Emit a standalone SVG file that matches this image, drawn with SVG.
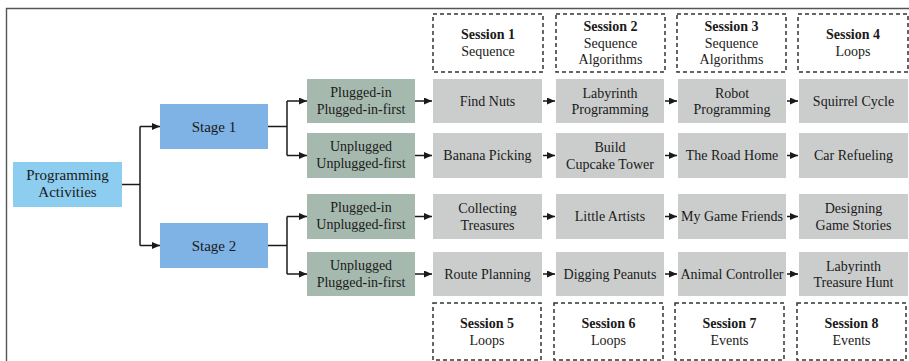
<svg xmlns="http://www.w3.org/2000/svg" width="909" height="361" viewBox="0 0 909 361">
<style>
text{font-family:'Liberation Serif','DejaVu Serif','Times New Roman',serif;fill:#1a1a1a;text-anchor:middle}
.t14{font-size:14px}
.t15{font-size:15px}
.b{font-weight:bold}
.pa{fill:#8dcdef}
.st{fill:#7fb3e5}
.gr{fill:#a6b9af}
.gy{fill:#cbcdcc}
.ses{fill:#fff;stroke:#333;stroke-width:1.5;stroke-dasharray:4 3}
.con{fill:none;stroke:#1a1a1a;stroke-width:1.5}
</style>
<defs>
<marker id="ah" viewBox="0 0 8 7" refX="8" refY="3.5" markerWidth="8" markerHeight="7" markerUnits="userSpaceOnUse" orient="auto">
<path d="M0,0 L8,3.5 L0,7 z" fill="#1a1a1a"/>
</marker>
</defs>
<path d="M6.5,361 V8.5 H909" fill="none" stroke="#555" stroke-width="1.4"/>
<g font-family="Liberation Serif, DejaVu Serif, serif">
<g id="session1"><rect class="ses" x="433" y="14" width="110" height="58"/><text class="t14 b" x="488" y="39.3">Session 1</text><text class="t14" x="488" y="55.9">Sequence</text></g>
<g id="session2"><rect class="ses" x="556" y="14" width="109" height="58"/><text class="t14 b" x="610.5" y="31">Session 2</text><text class="t14" x="610.5" y="47.5">Sequence</text><text class="t14" x="610.5" y="64">Algorithms</text></g>
<g id="session3"><rect class="ses" x="677" y="14" width="109" height="58"/><text class="t14 b" x="731.5" y="31">Session 3</text><text class="t14" x="731.5" y="47.5">Sequence</text><text class="t14" x="731.5" y="64">Algorithms</text></g>
<g id="session4"><rect class="ses" x="798" y="14" width="110" height="58"/><text class="t14 b" x="853" y="39.3">Session 4</text><text class="t14" x="853" y="55.9">Loops</text></g>

<g id="session5"><rect class="ses" x="433" y="303" width="108" height="57"/><text class="t14 b" x="487" y="328">Session 5</text><text class="t14" x="487" y="344.5">Loops</text></g>
<g id="session6"><rect class="ses" x="554" y="303" width="109" height="57"/><text class="t14 b" x="608.5" y="328">Session 6</text><text class="t14" x="608.5" y="344.5">Loops</text></g>
<g id="session7"><rect class="ses" x="675" y="303" width="109" height="57"/><text class="t14 b" x="729.5" y="328">Session 7</text><text class="t14" x="729.5" y="344.5">Events</text></g>
<g id="session8"><rect class="ses" x="797" y="303" width="109" height="57"/><text class="t14 b" x="851.5" y="328">Session 8</text><text class="t14" x="851.5" y="344.5">Events</text></g>

<g id="programming-activities"><rect class="pa" x="13" y="162" width="109" height="45"/><text class="t15" x="67.5" y="180">Programming</text><text class="t15" x="67.5" y="197">Activities</text></g>
<g id="stage1"><rect class="st" x="160" y="104" width="108" height="45"/><text class="t15" x="214" y="131.5">Stage 1</text></g>
<g id="stage2"><rect class="st" x="160" y="223" width="108" height="45"/><text class="t15" x="214" y="250.5">Stage 2</text></g>

<g id="mode1"><rect class="gr" x="307" y="79" width="108" height="44"/><text class="t14" x="361" y="97">Plugged-in</text><text class="t14" x="361" y="114">Plugged-in-first</text></g>
<g id="mode2"><rect class="gr" x="307" y="133" width="108" height="45"/><text class="t14" x="361" y="151">Unplugged</text><text class="t14" x="361" y="168">Unplugged-first</text></g>
<g id="mode3"><rect class="gr" x="307" y="194" width="108" height="45"/><text class="t14" x="361" y="212">Plugged-in</text><text class="t14" x="361" y="229">Unplugged-first</text></g>
<g id="mode4"><rect class="gr" x="307" y="252" width="108" height="44"/><text class="t14" x="361" y="270">Unplugged</text><text class="t14" x="361" y="287">Plugged-in-first</text></g>

<g id="r1c1"><rect class="gy" x="433" y="79" width="109" height="44"/><text class="t14" x="487.5" y="106">Find Nuts</text></g>
<g id="r1c2"><rect class="gy" x="556" y="79" width="108" height="44"/><text class="t14" x="610" y="97.5">Labyrinth</text><text class="t14" x="610" y="114">Programming</text></g>
<g id="r1c3"><rect class="gy" x="678" y="79" width="108" height="44"/><text class="t14" x="732" y="97.5">Robot</text><text class="t14" x="732" y="114">Programming</text></g>
<g id="r1c4"><rect class="gy" x="799" y="79" width="109" height="44"/><text class="t14" x="853.5" y="106">Squirrel Cycle</text></g>

<g id="r2c1"><rect class="gy" x="433" y="133" width="109" height="45"/><text class="t14" x="487.5" y="160">Banana Picking</text></g>
<g id="r2c2"><rect class="gy" x="556" y="133" width="108" height="45"/><text class="t14" x="610" y="152">Build</text><text class="t14" x="610" y="168.5">Cupcake Tower</text></g>
<g id="r2c3"><rect class="gy" x="678" y="133" width="108" height="45"/><text class="t14" x="732" y="160">The Road Home</text></g>
<g id="r2c4"><rect class="gy" x="799" y="133" width="109" height="45"/><text class="t14" x="853.5" y="160">Car Refueling</text></g>

<g id="r3c1"><rect class="gy" x="433" y="194" width="109" height="45"/><text class="t14" x="487.5" y="213">Collecting</text><text class="t14" x="487.5" y="229.5">Treasures</text></g>
<g id="r3c2"><rect class="gy" x="556" y="194" width="108" height="45"/><text class="t14" x="610" y="221">Little Artists</text></g>
<g id="r3c3"><rect class="gy" x="678" y="194" width="108" height="45"/><text class="t14" x="732" y="221">My Game Friends</text></g>
<g id="r3c4"><rect class="gy" x="799" y="194" width="109" height="45"/><text class="t14" x="853.5" y="213">Designing</text><text class="t14" x="853.5" y="229.5">Game Stories</text></g>

<g id="r4c1"><rect class="gy" x="433" y="252" width="109" height="44"/><text class="t14" x="487.5" y="279">Route Planning</text></g>
<g id="r4c2"><rect class="gy" x="556" y="252" width="108" height="44"/><text class="t14" x="610" y="279">Digging Peanuts</text></g>
<g id="r4c3"><rect class="gy" x="678" y="252" width="108" height="44"/><text class="t14" x="732" y="279">Animal Controller</text></g>
<g id="r4c4"><rect class="gy" x="799" y="252" width="109" height="44"/><text class="t14" x="853.5" y="270.5">Labyrinth</text><text class="t14" x="853.5" y="287">Treasure Hunt</text></g>
</g>
<g id="connectors" class="con">
<path d="M122,184.5 H140"/>
<path d="M140,126.5 V245.5"/>
<path d="M140,126.5 H160" marker-end="url(#ah)"/>
<path d="M140,245.5 H160" marker-end="url(#ah)"/>
<path d="M268,126.5 H287"/>
<path d="M287,101 V155.5"/>
<path d="M287,101 H307" marker-end="url(#ah)"/>
<path d="M287,155.5 H307" marker-end="url(#ah)"/>
<path d="M268,245.5 H287"/>
<path d="M287,216.5 V274"/>
<path d="M287,216.5 H307" marker-end="url(#ah)"/>
<path d="M287,274 H307" marker-end="url(#ah)"/>
<path d="M415,101 H432" marker-end="url(#ah)"/>
<path d="M415,155.5 H432" marker-end="url(#ah)"/>
<path d="M415,216.5 H432" marker-end="url(#ah)"/>
<path d="M415,274 H432" marker-end="url(#ah)"/>
<path d="M543,101 H555" marker-end="url(#ah)"/>
<path d="M543,155.5 H555" marker-end="url(#ah)"/>
<path d="M543,216.5 H555" marker-end="url(#ah)"/>
<path d="M543,274 H555" marker-end="url(#ah)"/>
<path d="M665,101 H677" marker-end="url(#ah)"/>
<path d="M665,155.5 H677" marker-end="url(#ah)"/>
<path d="M665,216.5 H677" marker-end="url(#ah)"/>
<path d="M665,274 H677" marker-end="url(#ah)"/>
<path d="M787,101 H798" marker-end="url(#ah)"/>
<path d="M787,155.5 H798" marker-end="url(#ah)"/>
<path d="M787,216.5 H798" marker-end="url(#ah)"/>
<path d="M787,274 H798" marker-end="url(#ah)"/>
</g>
</svg>
